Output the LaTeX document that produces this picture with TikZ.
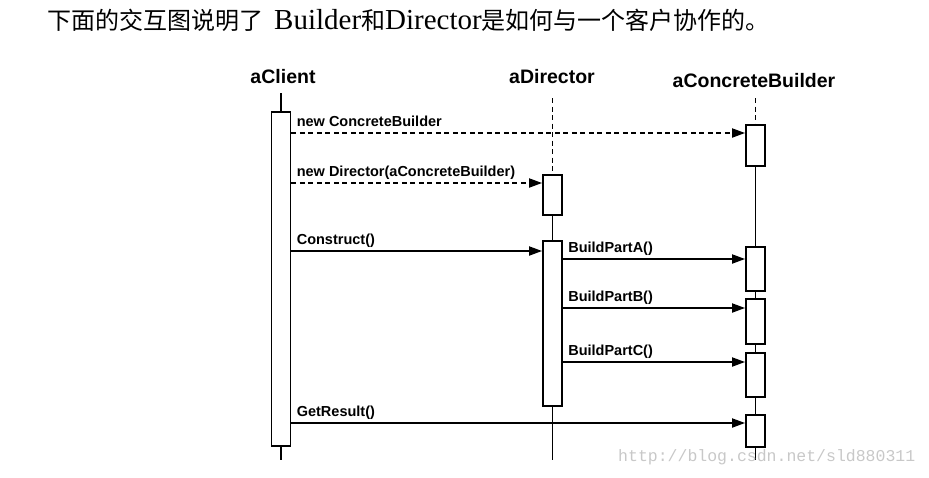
\documentclass[tikz,border=0pt]{standalone}
\usepackage{fontspec}
\setmainfont{Liberation Serif}
\setsansfont{Liberation Sans}
\setmonofont{Liberation Mono}
\newfontfamily\cjk{Noto Sans CJK SC}
\usepackage{tikz}
\usetikzlibrary{arrows.meta,backgrounds}
\definecolor{wmgray}{HTML}{C8C8C8}
\tikzset{%
    >={Triangle[length=13pt,width=9pt]},
    actbox/.style={draw,fill=white,line width=1.8pt,minimum width=19pt,inner sep=0pt},
    lifeline/.style={line width=1.8pt},
    msgcall/.style={->,line width=1.8pt},
    msgnew/.style={->,line width=1.8pt,dash pattern=on 5pt off 3.5pt},
    msglbl/.style={anchor=base west,inner sep=0pt,xshift=4.5pt,yshift=6.5pt,
      font=\sffamily\bfseries\fontsize{14.5}{16}\selectfont},
    objname/.style={font=\sffamily\bfseries\fontsize{19.5}{22}\selectfont}
}

\begin{document}
\begin{tikzpicture}[x=1pt,y=-1pt]
      \useasboundingbox (0,0) rectangle (929,477);

      % caption line
      \node[anchor=west,inner sep=0pt,font=\fontsize{24}{26}\selectfont] (title) at (47,20)
        {{\cjk 下面的交互图说明了}\hspace{11pt}{\fontsize{29}{30}\selectfont Builder}{\cjk 和}{\fontsize{29}{30}\selectfont Director}{\cjk 是如何与一个客户协作的。}};

      % objects
      \node[objname] (hcl) at (283,77) {aClient};
      \node[objname] (hdi) at (552,77) {aDirector};
      \node[objname] (hbu) at (754,81) {aConcreteBuilder};

      \coordinate (cltop) at (281,93);
      \coordinate (clbot) at (281,460);
      \coordinate (ditop) at (552.5,98);
      \coordinate (dibot) at (552.5,460);
      \coordinate (butop) at (755.5,98);
      \coordinate (bubot) at (755.5,460);

      % activations
      \node[actbox,minimum height=334pt] (cl) at (281,279) {};
      \node[actbox,minimum height=40pt] (di1) at (552.5,195) {};
      \node[actbox,minimum height=165pt] (di2) at (552.5,323.5) {};
      \node[actbox,minimum height=41pt] (bu1) at (755.5,145.5) {};
      \node[actbox,minimum height=44pt] (bu2) at (755.5,269) {};
      \node[actbox,minimum height=45pt] (bu3) at (755.5,321.5) {};
      \node[actbox,minimum height=44pt] (bu4) at (755.5,375) {};
      \node[actbox,minimum height=32pt] (bu5) at (755.5,431) {};

      \begin{scope}[on background layer]
        \draw[lifeline] (cltop) -- (clbot);
        \draw[lifeline,dash pattern=on 5pt off 3.5pt] (ditop) -- (di1.north);
        \draw[lifeline] (di1.south) -- (dibot);
        \draw[lifeline,dash pattern=on 5pt off 3.5pt] (butop) -- (bu1.north);
        \draw[lifeline] (bu1.south) -- (bubot);
      \end{scope}

      % messages
      \coordinate (m1) at (0,133);
      \coordinate (m2) at (0,183);
      \coordinate (m3) at (0,251);
      \coordinate (m4) at (0,259);
      \coordinate (m5) at (0,308);
      \coordinate (m6) at (0,362);
      \coordinate (m7) at (0,423);

      \draw[msgnew] (cl.east |- m1) -- (bu1.west |- m1) node[msglbl] at (cl.east |- m1) {new ConcreteBuilder};
      \draw[msgnew] (cl.east |- m2) -- (di1.west |- m2) node[msglbl] at (cl.east |- m2) {new Director(aConcreteBuilder)};
      \draw[msgcall] (cl.east |- m3) -- (di2.west |- m3) node[msglbl] at (cl.east |- m3) {Construct()};
      \draw[msgcall] (di2.east |- m4) -- (bu2.west |- m4) node[msglbl] at (di2.east |- m4) {BuildPartA()};
      \draw[msgcall] (di2.east |- m5) -- (bu3.west |- m5) node[msglbl] at (di2.east |- m5) {BuildPartB()};
      \draw[msgcall] (di2.east |- m6) -- (bu4.west |- m6) node[msglbl] at (di2.east |- m6) {BuildPartC()};
      \draw[msgcall] (cl.east |- m7) -- (bu5.west |- m7) node[msglbl] at (cl.east |- m7) {GetResult()};

      % watermark
      \node[anchor=west,inner sep=0pt,text=wmgray,font=\ttfamily\fontsize{16.5}{18}\selectfont] (wm) at (618,457)
        {http://blog.csdn.net/sld880311};
    \end{tikzpicture}
\end{document}
